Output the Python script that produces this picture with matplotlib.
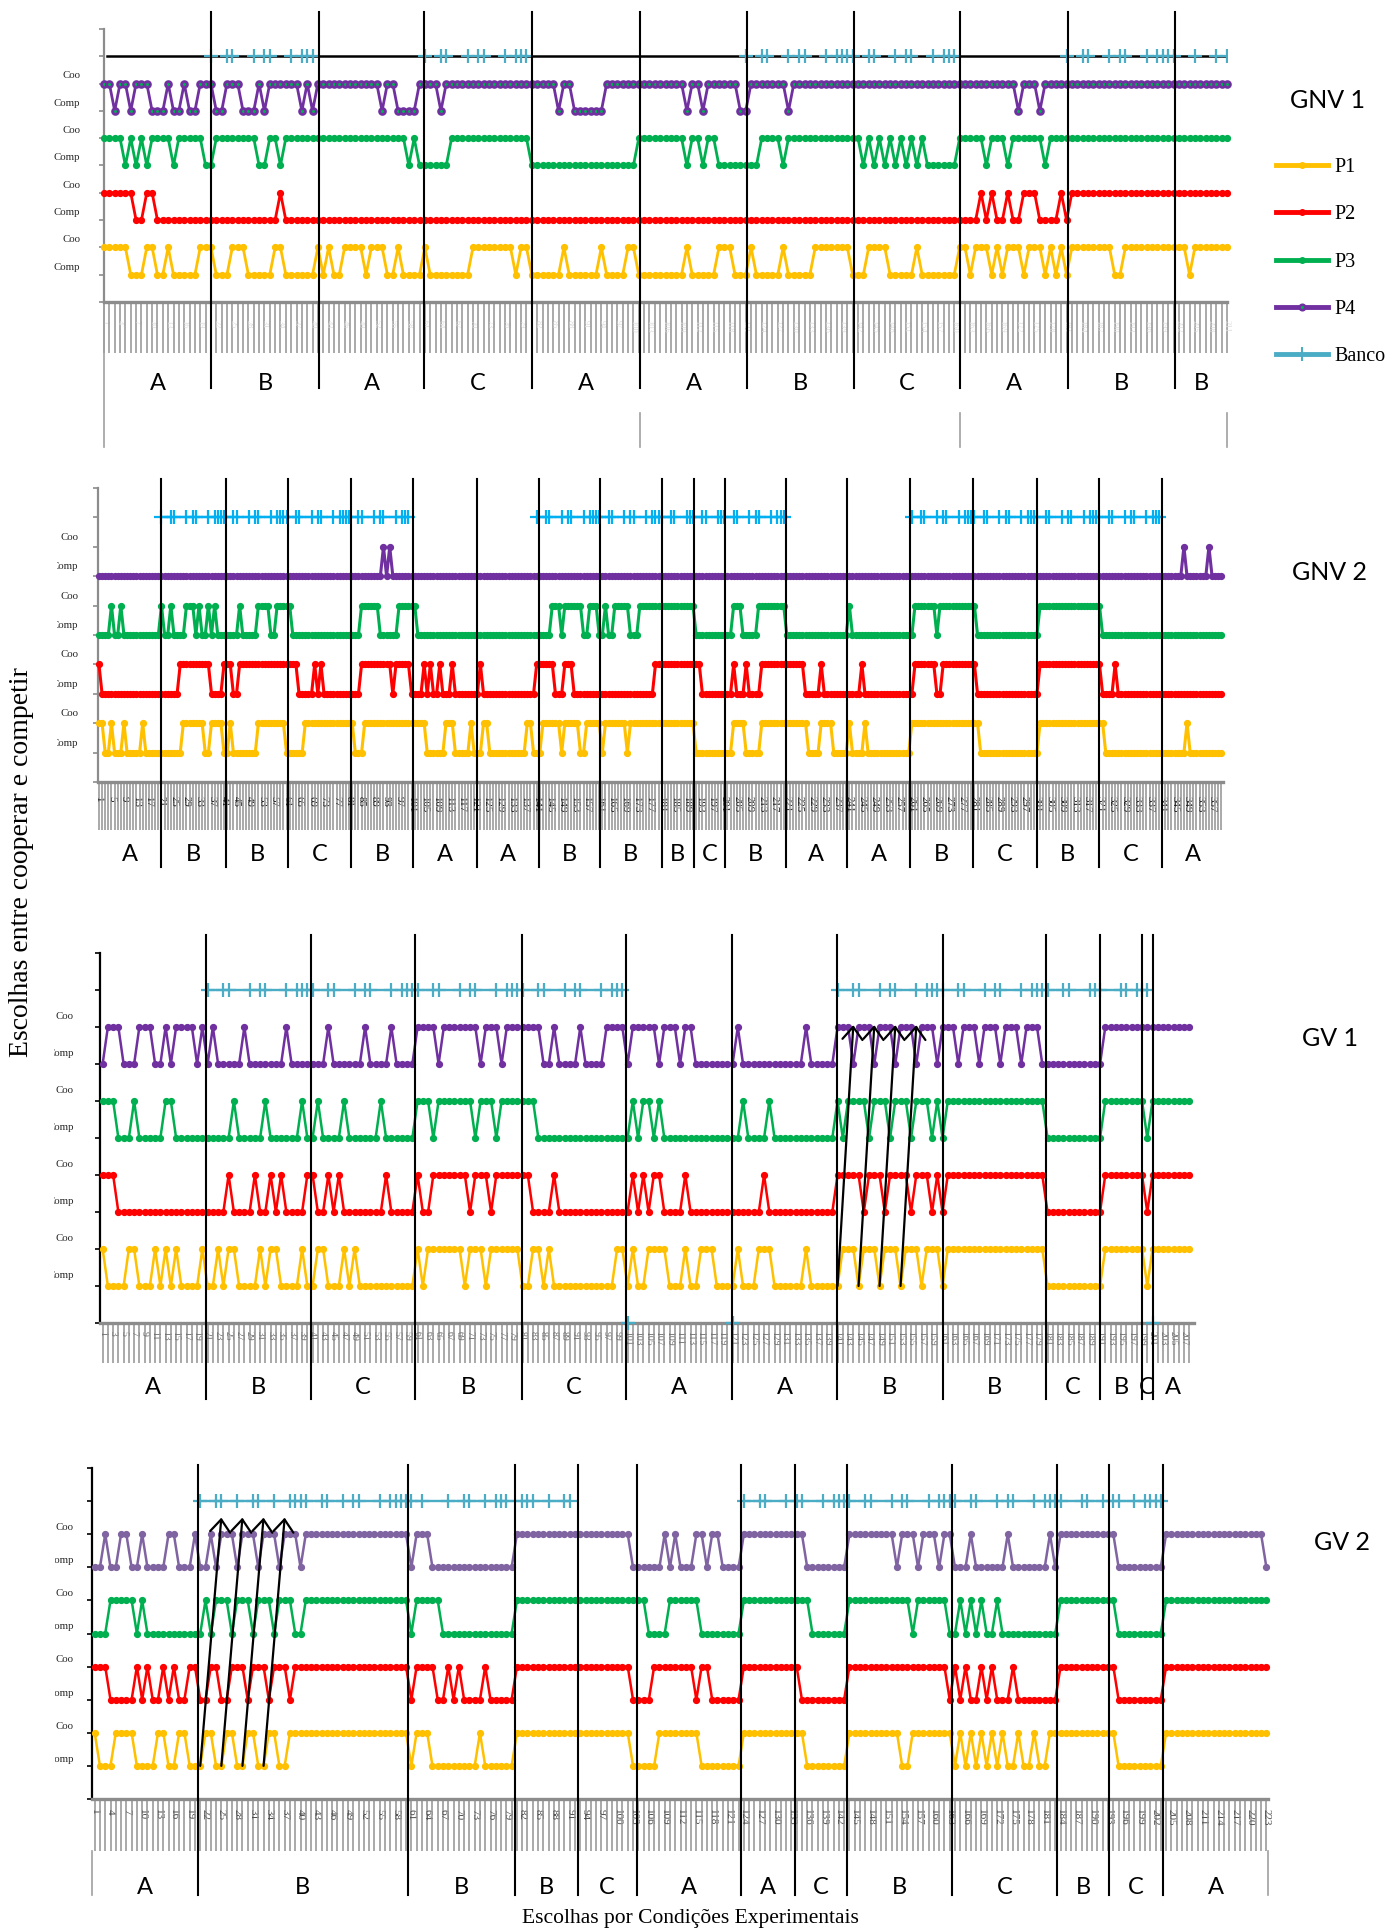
import numpy as np
import matplotlib.pyplot as plt
from matplotlib.lines import Line2D
from matplotlib.transforms import blended_transform_factory, Bbox

W, H = 1395, 1930
SERIF = ['Liberation Serif', 'DejaVu Serif']
SANS = ['Lato', 'DejaVu Sans']

YELLOW, RED, GREEN = '#FFC000', '#FF0000', '#00B050'
PURPLE, PURPLE_LIGHT = '#7030A0', '#8064A2'
BANCO_BLUE, BANCO_CYAN = '#4BACC6', '#00B0F0'

# choices are stored as runs of "Coo" trials (first, last); all other trials are "Comp"

# ---- GNV 1 ----
GNV1_N = 211
GNV1_P1 = [(1, 5), (9, 10), (13, 13), (19, 21), (25, 27), (33, 34), (41, 41), (43, 43), (46, 49),
           (51, 53), (56, 56), (61, 61), (70, 77), (79, 80), (87, 87), (94, 94), (99, 100), (110, 110),
           (116, 118), (122, 122), (128, 128), (134, 140), (144, 147), (153, 153), (161, 162),
           (164, 166), (168, 168), (170, 172), (174, 176), (178, 178), (180, 180), (182, 189),
           (192, 203), (205, 211)]
GNV1_P2 = [(1, 6), (9, 10), (34, 34), (165, 165), (167, 167), (170, 170), (173, 175), (180, 180),
           (182, 211)]
GNV1_P3 = [(1, 4), (6, 6), (8, 8), (10, 13), (15, 19), (22, 29), (32, 33), (35, 57), (59, 59),
           (66, 80), (101, 109), (111, 112), (114, 115), (124, 127), (129, 142), (144, 144),
           (146, 146), (148, 148), (150, 150), (152, 152), (154, 154), (161, 165), (167, 169),
           (171, 176), (178, 211)]
GNV1_P4 = [(1, 2), (4, 5), (7, 9), (13, 13), (16, 16), (19, 21), (24, 26), (30, 30), (32, 37),
           (39, 39), (41, 52), (54, 55), (60, 63), (65, 85), (87, 88), (95, 109), (111, 112),
           (114, 119), (122, 128), (130, 171), (173, 175), (177, 211)]
GNV1_BANCO = [[21, 24, 25, 29, 31, 32, 36, 38, 39, 40],
              [61, 64, 65, 69, 71, 72, 76, 78, 79, 80],
              [121, 124, 125, 129, 131, 132, 136, 138, 139, 140,
               141, 144, 145, 149, 151, 152, 156, 158, 159, 160],
              [181, 184, 185, 189, 191, 192, 196, 198, 199, 200, 201, 205, 209, 211]]
GNV1_SPLITS = [21.1, 41.2, 60.9, 81.0, 101.2, 121.3, 141.2, 161.1, 181.2, 201.3]
GNV1_CONDS = ['A', 'B', 'A', 'C', 'A', 'A', 'B', 'C', 'A', 'B', 'B']

# ---- GNV 2 ----
GNV2_N = 360
GNV2_P1 = [(1, 2), (5, 5), (9, 9), (15, 15), (28, 34), (37, 40), (43, 43), (52, 60), (67, 82),
           (86, 105), (112, 114), (120, 120), (124, 125), (138, 139), (143, 148), (150, 154),
           (157, 161), (163, 169), (171, 191), (204, 207), (213, 227), (232, 235), (241, 241),
           (246, 246), (261, 282), (302, 322), (349, 349)]
GNV2_P2 = [(1, 1), (27, 36), (41, 43), (46, 64), (70, 70), (72, 72), (85, 94), (96, 100),
           (105, 105), (107, 107), (110, 110), (114, 114), (123, 123), (141, 146), (150, 152),
           (179, 193), (204, 204), (208, 208), (213, 226), (232, 232), (245, 245), (262, 268),
           (271, 281), (302, 321), (326, 326)]
GNV2_P3 = [(5, 5), (8, 8), (21, 21), (24, 24), (29, 31), (33, 33), (36, 36), (38, 38), (46, 46),
           (52, 55), (58, 62), (85, 90), (97, 102), (146, 148), (150, 155), (158, 160), (163, 163),
           (166, 170), (174, 191), (204, 206), (212, 220), (241, 241), (262, 268), (270, 281),
           (302, 321)]
GNV2_P4 = [(92, 92), (94, 94), (348, 348), (356, 356)]
GNV2_BANCO = [[21, 24, 25, 29, 31, 32, 36, 38, 39, 40, 41, 44, 45, 49, 51, 52, 56, 58, 59, 60,
               61, 64, 65, 69, 71, 72, 76, 78, 79, 80, 81, 84, 85, 89, 91, 92, 96, 98, 99, 100],
              [141, 144, 145, 149, 151, 152, 156, 158, 159, 160, 161, 164, 165, 169, 171, 172,
               176, 178, 179, 180, 181, 184, 185, 189, 190, 191, 194, 195, 199, 200,
               201, 204, 205, 209, 211, 212, 216, 218, 219, 220],
              [261, 264, 265, 269, 271, 272, 276, 278, 279, 280, 281, 284, 285, 289, 291, 292,
               296, 298, 299, 300, 301, 304, 305, 309, 311, 312, 316, 318, 319, 320,
               321, 324, 325, 329, 331, 332, 336, 338, 339, 340]]
GNV2_SPLITS = [20.8, 41.7, 61.5, 81.6, 101.5, 121.8, 141.6, 161.2, 181.0, 191.2, 201.3, 220.7,
               240.2, 260.4, 280.4, 300.9, 320.7, 341.1]
GNV2_CONDS = ['A', 'B', 'B', 'C', 'B', 'A', 'A', 'B', 'B', 'B', 'C', 'B', 'A', 'A', 'B', 'C',
              'B', 'C', 'A']

# ---- GV 1 ----
GV1_N = 208
GV1_P1 = [(1, 1), (6, 7), (11, 11), (13, 13), (15, 15), (20, 20), (23, 23), (25, 26), (31, 31),
          (33, 34), (39, 39), (42, 43), (47, 47), (49, 49), (61, 61), (63, 69), (71, 73), (75, 80),
          (83, 84), (86, 86), (99, 100), (102, 102), (105, 108), (112, 112), (115, 117),
          (122, 122), (126, 128), (135, 135), (142, 144), (146, 148), (150, 152), (154, 156),
          (158, 160), (162, 180), (192, 199), (201, 208)]
GV1_P2 = [(1, 3), (25, 25), (30, 30), (33, 33), (35, 35), (40, 41), (44, 44), (46, 46), (55, 55),
          (61, 61), (64, 70), (72, 74), (76, 82), (87, 87), (102, 102), (104, 104), (106, 107),
          (112, 112), (127, 127), (141, 145), (147, 149), (151, 154), (156, 158), (160, 160),
          (162, 180), (192, 199), (201, 208)]
GV1_P3 = [(1, 3), (7, 7), (13, 14), (26, 26), (32, 32), (39, 39), (42, 42), (47, 47), (54, 54),
          (61, 63), (65, 71), (73, 75), (77, 83), (102, 102), (104, 105), (107, 107), (123, 123),
          (128, 128), (141, 141), (143, 146), (148, 150), (152, 154), (156, 158), (160, 160),
          (162, 180), (192, 199), (201, 208)]
GV1_P4 = [(2, 4), (8, 10), (13, 13), (15, 18), (20, 20), (22, 22), (28, 28), (36, 36), (44, 44),
          (51, 51), (56, 56), (61, 64), (66, 72), (74, 76), (78, 84), (87, 87), (92, 92),
          (97, 100), (102, 106), (108, 110), (112, 113), (122, 122), (135, 135), (141, 143),
          (145, 147), (149, 151), (153, 155), (157, 159), (161, 163), (165, 167), (169, 171),
          (173, 175), (177, 179), (192, 208)]
GV1_BANCO = [[21, 24, 25, 29, 31, 32, 36, 38, 39, 40, 41, 44, 45, 49, 51, 52, 56, 58, 59, 60,
              61, 64, 65, 69, 71, 72, 76, 78, 79, 80, 81, 84, 85, 89, 91, 92, 96, 98, 99, 100],
             [141, 144, 145, 149, 151, 152, 156, 158, 159, 160, 161, 164, 165, 169, 171, 172,
              176, 178, 179, 180, 181, 184, 185, 189, 190, 191, 195, 196, 198, 199, 200]]
GV1_BANCO_ZERO = [101, 121, 201]
GV1_SPLITS = [20.6, 40.6, 60.6, 80.8, 100.7, 120.9, 140.9, 161.0, 180.8, 191.0, 199.0, 201.0]
GV1_CONDS = ['A', 'B', 'C', 'B', 'C', 'A', 'A', 'B', 'B', 'C', 'B', 'C', 'A']
GV1_ARROW_FROM = [141, 145, 149, 153]
GV1_ARROW_TO = [144, 148, 152, 156]

# ---- GV 2 ----
GV2_N = 223
GV2_P1 = [(1, 1), (5, 8), (13, 14), (17, 18), (22, 23), (26, 27), (30, 31), (34, 35), (38, 60),
          (62, 64), (74, 74), (81, 102), (108, 115), (124, 135), (144, 153), (156, 163),
          (165, 165), (167, 167), (169, 169), (171, 171), (173, 173), (176, 176), (179, 179),
          (182, 194), (204, 223)]
GV2_P2 = [(1, 3), (9, 9), (11, 11), (14, 14), (16, 16), (19, 20), (23, 24), (27, 29), (31, 33),
          (35, 37), (39, 60), (62, 65), (68, 68), (70, 70), (75, 75), (81, 102), (107, 114),
          (116, 117), (124, 134), (144, 162), (164, 164), (166, 166), (169, 169), (171, 171),
          (175, 175), (184, 194), (204, 223)]
GV2_P3 = [(4, 8), (10, 10), (22, 22), (24, 26), (28, 30), (32, 34), (36, 38), (41, 60), (62, 66),
          (81, 105), (110, 115), (124, 136), (144, 155), (157, 162), (165, 165), (167, 167),
          (169, 169), (172, 172), (184, 194), (204, 223)]
GV2_P4 = [(3, 3), (6, 7), (10, 10), (15, 16), (20, 20), (23, 23), (25, 27), (29, 31), (33, 35),
          (37, 39), (41, 60), (62, 64), (81, 102), (109, 109), (111, 111), (115, 116), (118, 119),
          (124, 135), (144, 152), (154, 156), (158, 160), (162, 163), (167, 167), (174, 174),
          (182, 182), (184, 194), (204, 222)]
GV2_BANCO = [[21, 24, 25, 28, 31, 32, 35, 38, 39, 40, 41, 44, 45, 48, 50, 51, 55, 57, 58, 59,
              60, 61, 63, 68, 71, 72, 75, 77, 78, 79, 82, 83, 84, 87, 90, 91],
             [124, 127, 128, 132, 134, 135, 139, 141, 142, 143, 144, 147, 148, 152, 154, 155,
              159, 161, 162, 163, 164, 167, 168, 172, 174, 175, 179, 181, 182, 183, 184, 188,
              189, 192, 194, 195, 198, 200, 201, 202, 203]]
GV2_SPLITS = [20.5, 60.4, 80.6, 92.5, 103.7, 123.5, 133.6, 143.5, 163.5, 183.3, 193.2, 203.5]
GV2_CONDS = ['A', 'B', 'B', 'B', 'C', 'A', 'A', 'C', 'B', 'C', 'B', 'C', 'A']
GV2_ARROW_FROM = [21, 25, 29, 33]
GV2_ARROW_TO = [25, 29, 33, 37]


def choices(runs, n):
    v = np.zeros(n)
    for a, b in runs:
        v[a - 1:b] = 1
    return v


panels = [
    dict(title='GNV 1', title_xy=(1327, 101), n=GNV1_N, series=[GNV1_P1, GNV1_P2, GNV1_P3, GNV1_P4],
         purple=PURPLE, p4_face=GREEN, banco=GNV1_BANCO, banco_c=BANCO_BLUE, refline=True,
         splits=GNV1_SPLITS, conds=GNV1_CONDS, box=(104, 1227, 29, 302), xlim=(1, 211),
         spine='#8c8c8c', tick_len=36.7, tick_pad=-23.7, lab_step=3, lab_size=6, lab_c='#dcdcdc',
         split_y=(12, 388), letter_y=384, coo_gap=24, coo_off=0.28, clip_x=None, lw=2.0),
    dict(title='GNV 2', title_xy=(1330, 572), n=GNV2_N, series=[GNV2_P1, GNV2_P2, GNV2_P3, GNV2_P4],
         purple=PURPLE, p4_face=PURPLE, banco=GNV2_BANCO, banco_c=BANCO_CYAN, refline=False,
         splits=GNV2_SPLITS, conds=GNV2_CONDS, box=(98, 1223, 488, 782), xlim=(0.7, 360.5),
         spine='#8c8c8c', tick_len=34.6, tick_pad=-24.5, lab_step=4, lab_size=7.8, lab_c='#1a1a1a',
         split_y=(479, 867), letter_y=855, coo_gap=20, coo_off=0.32, clip_x=57, lw=2.2),
    dict(title='GV 1', title_xy=(1330, 1038), n=GV1_N, series=[GV1_P1, GV1_P2, GV1_P3, GV1_P4],
         purple=PURPLE, p4_face=PURPLE, banco=GV1_BANCO, banco_c=BANCO_BLUE, refline=False,
         splits=GV1_SPLITS, conds=GV1_CONDS, box=(100, 1194, 953, 1323), xlim=(0.5, 208.9),
         spine='black', tick_len=28.8, tick_pad=-22.8, lab_step=2, lab_size=7, lab_c='#6e6e6e',
         split_y=(935, 1399), letter_y=1387, coo_gap=26, coo_off=0.28, clip_x=54, lw=1.8,
         arrows=(GV1_ARROW_FROM, GV1_ARROW_TO, 8.05), banco_zero=GV1_BANCO_ZERO),
    dict(title='GV 2', title_xy=(1342, 1543), n=GV2_N, series=[GV2_P1, GV2_P2, GV2_P3, GV2_P4],
         purple=PURPLE_LIGHT, p4_face=PURPLE_LIGHT, banco=GV2_BANCO, banco_c=BANCO_BLUE,
         refline=False, splits=GV2_SPLITS, conds=GV2_CONDS, box=(91.5, 1268.5, 1468, 1799),
         xlim=(0.4, 223.4), spine='black', tick_len=37.4, tick_pad=-30.0, lab_step=3, lab_size=8,
         lab_c='#4d4d4d', split_y=(1465, 1895), letter_y=1887, coo_gap=18, coo_off=0.2, clip_x=55,
         lw=1.8, arrows=(GV2_ARROW_FROM, GV2_ARROW_TO, 8.5)),
]

fig = plt.figure(figsize=(W / 100, H / 100), dpi=100)


def draw_panel(p):
    left, right, top, bottom = p['box']
    ax = fig.add_axes([left / W, 1 - bottom / H, (right - left) / W, (bottom - top) / H])
    n = p['n']
    x = np.arange(1, n + 1)
    ax.set_xlim(*p['xlim'])
    ax.set_ylim(0, 10)
    ax.patch.set_alpha(0)

    def fy(ypx):
        return (bottom - ypx) / (bottom - top)

    vline = blended_transform_factory(ax.transData, ax.transAxes)
    side = blended_transform_factory(ax.transAxes, ax.transData)

    for s in ('top', 'right'):
        ax.spines[s].set_visible(False)
    ax.spines['left'].set_color(p['spine'])
    ax.spines['left'].set_linewidth(1.6)
    ax.spines['bottom'].set_color('#8c8c8c')
    ax.spines['bottom'].set_linewidth(2.4)

    ax.set_yticks(range(11))
    ax.set_yticklabels([])
    ax.tick_params(axis='y', direction='out', length=3.6, width=1.2, color=p['spine'])

    ax.set_xticks(x)
    ax.set_xticklabels([str(i) if (i - 1) % p['lab_step'] == 0 else '' for i in x])
    ax.tick_params(axis='x', direction='out', length=p['tick_len'], width=1.1, color='#929292',
                   pad=p['tick_pad'], labelsize=p['lab_size'], labelcolor=p['lab_c'],
                   labelrotation=270)
    for t in ax.get_xticklabels():
        t.set_fontfamily(SERIF)

    colors = [YELLOW, RED, GREEN, p['purple']]
    for k, (runs, c) in enumerate(zip(p['series'], colors)):
        base = 1 + 2 * k
        face = p['p4_face'] if k == 3 else c
        mew = 2.0 if face != c else 1.0
        ax.plot(x, base + choices(runs, n), color=c, lw=p['lw'], marker='o', ms=4.2,
                mfc=face, mec=c, mew=mew, zorder=3, clip_on=False)
        for lev, txt in ((base + 1, 'Coo'), (base, 'Comp')):
            t = ax.text(-p['coo_gap'] / (right - left), lev + p['coo_off'], txt, transform=side,
                        ha='right', va='center', fontsize=7.8, family=SERIF, color='#262626')
            if p['clip_x'] is not None:
                t.set_clip_box(Bbox.from_extents(p['clip_x'], 0, W, H))
                t.set_clip_on(True)

    if p['refline']:
        ax.plot([1.6, n], [9, 9], color='black', lw=1.8, zorder=3.5)
        for block in p['banco']:
            ax.plot(block, [9] * len(block), ls='none', marker='+', ms=10, mew=1.6,
                    color=p['banco_c'], zorder=4)
    else:
        for block in p['banco']:
            ax.plot(block, [9] * len(block), color=p['banco_c'], lw=1.7, marker='+', ms=10,
                    mew=1.6, zorder=4)
    if 'banco_zero' in p:
        ax.plot(p['banco_zero'], [0] * len(p['banco_zero']), ls='none', marker='+', ms=10,
                mew=1.6, color=p['banco_c'], zorder=4, clip_on=False)

    y0, y1 = fy(p['split_y'][1]), fy(p['split_y'][0])
    for s in p['splits']:
        ax.plot([s, s], [y0, y1], transform=vline, color='black', lw=1.5, clip_on=False, zorder=6)

    edges = [p['xlim'][0]] + p['splits'] + [p['xlim'][1]]
    for a, b, c in zip(edges[:-1], edges[1:], p['conds']):
        ax.text((a + b) / 2, fy(p['letter_y']), c, transform=vline, ha='center', va='center',
                fontsize=17, family=SANS)

    if 'arrows' in p:
        src, dst, top_level = p['arrows']
        p1 = 1 + choices(p['series'][0], n)
        for a, b in zip(src, dst):
            ax.annotate('', xy=(b, top_level), xytext=(a, p1[a - 1]),
                        arrowprops=dict(arrowstyle='->,head_length=0.5,head_width=0.4',
                                        color='black', lw=1.6, mutation_scale=18,
                                        shrinkA=0, shrinkB=0), zorder=7, annotation_clip=False)

    fig.text(p['title_xy'][0] / W, 1 - p['title_xy'][1] / H, p['title'], ha='center', va='center',
             fontsize=18, family=SANS)
    return ax, fy, vline


axes = [draw_panel(p) for p in panels]

# category-axis group lines under the first panel
ax0, fy0, vl0 = axes[0]
ax0.plot([1, 1], [fy0(447), 0], transform=vl0, color='#a0a0a0', lw=1.2, clip_on=False)
for s in (GNV1_SPLITS[4], GNV1_SPLITS[7], GNV1_N):
    ax0.plot([s, s], [fy0(447), fy0(413)], transform=vl0, color='#a0a0a0', lw=1.2, clip_on=False)

ax3, fy3, vl3 = axes[3]
for s in panels[3]['xlim']:
    ax3.plot([s, s], [fy3(1895), fy3(1851)], transform=vl3, color='#a0a0a0', lw=1.2,
             clip_on=False)

handles = [Line2D([], [], color=YELLOW, lw=3.5, marker='o', ms=4),
           Line2D([], [], color=RED, lw=3.5, marker='o', ms=4),
           Line2D([], [], color=GREEN, lw=3.5, marker='o', ms=4),
           Line2D([], [], color=PURPLE, lw=3.5, marker='o', ms=4, mfc=GREEN, mew=1.8),
           Line2D([], [], color=BANCO_BLUE, lw=3.5, marker='+', ms=10, mew=1.5)]
fig.legend(handles, ['P1', 'P2', 'P3', 'P4', 'Banco'], loc='upper left',
           bbox_to_anchor=(1276 / W, 1 - 158 / H), frameon=False, borderpad=0, borderaxespad=0,
           labelspacing=1.4, handlelength=2.6, handletextpad=0.3,
           prop={'family': SERIF, 'size': 14.5})

fig.text(22 / W, 1 - 862 / H, 'Escolhas entre cooperar e competir', rotation=90, ha='center',
         va='center', fontsize=20, family=SERIF)
fig.text(690 / W, 1 - 1918 / H, 'Escolhas por Condições Experimentais', ha='center',
         va='center', fontsize=15.5, family=SERIF)

fig.savefig('out.png', dpi=100)
